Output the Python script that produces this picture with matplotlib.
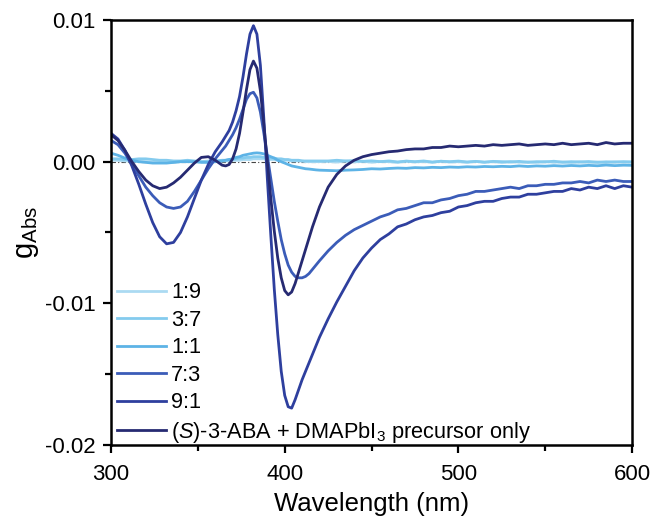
import numpy as np
import matplotlib
matplotlib.use("Agg")
import matplotlib.pyplot as plt
from matplotlib.ticker import MultipleLocator

plt.rcParams['font.family'] = ['Liberation Sans', 'DejaVu Sans']
plt.rcParams['mathtext.fontset'] = 'custom'
plt.rcParams['mathtext.rm'] = 'Liberation Sans'
plt.rcParams['mathtext.it'] = 'Liberation Sans:italic'

# wavelength grid (nm)
wl = [300, 304, 308, 312, 316, 320, 324, 328, 332, 336, 340, 344, 348, 352, 356, 360, 364,
      366, 368, 370, 372, 374, 376, 378, 380, 382, 384, 386, 388, 390, 392, 394, 396, 398,
      400, 402, 404, 406, 408, 410, 412, 414, 416, 418, 420,
      425, 430, 435, 440, 445, 450, 455, 460, 465, 470, 475, 480, 485, 490, 495, 500,
      505, 510, 515, 520, 525, 530, 535, 540, 545, 550, 555, 560, 565, 570, 575, 580,
      585, 590, 595, 600]

# g_Abs values, in units of 1e-3
g_19 = [0.1, 0.1, 0.05, 0.05, 0.0, 0.0, -0.05, -0.05, -0.05, -0.05, 0.0, 0.0, 0.0, 0.0, 0.05, 0.05, 0.05,
        0.05, 0.05, 0.1, 0.1, 0.1, 0.15, 0.15, 0.15, 0.2, 0.2, 0.2, 0.2, 0.15, 0.15, 0.15, 0.1, 0.1,
        0.1, 0.1, 0.05, 0.05, 0.05, 0.05, 0.0, 0.0, 0.0, 0.0, 0.0,
        0.02, -0.03, 0.04, -0.02, 0.03, -0.04, 0.02, 0.0, -0.05, 0.03, -0.02, 0.01, -0.04, 0.03, -0.03, 0.0,
        -0.05, 0.02, -0.03, 0.0, -0.06, 0.02, -0.04, -0.01, -0.05, 0.01, -0.04, -0.02, -0.06, 0.0, -0.05, -0.02,
        -0.06, -0.01, -0.04, -0.03]
g_37 = [0.2, 0.2, 0.15, 0.15, 0.2, 0.2, 0.15, 0.1, 0.1, 0.05, 0.05, 0.1, 0.05, 0.0, 0.0, 0.05, 0.1,
        0.1, 0.15, 0.15, 0.2, 0.25, 0.25, 0.3, 0.3, 0.35, 0.35, 0.35, 0.3, 0.3, 0.25, 0.25, 0.2, 0.2,
        0.15, 0.15, 0.1, 0.1, 0.1, 0.05, 0.05, 0.05, 0.05, 0.05, 0.05,
        0.05, 0.1, 0.05, 0.08, 0.02, 0.06, 0.0, 0.05, -0.02, 0.04, 0.0, 0.05, -0.03, 0.03, 0.0, 0.04,
        -0.02, 0.02, -0.04, 0.02, 0.0, -0.03, 0.02, -0.05, 0.0, -0.02, 0.03, -0.04, 0.0, -0.03, 0.01, -0.05,
        -0.01, -0.03, 0.0, -0.02]
g_11 = [0.6, 0.45, 0.25, 0.1, 0.0, -0.05, -0.1, -0.1, -0.1, -0.05, 0.0, 0.0, 0.0, -0.05, -0.05, 0.0, 0.05,
        0.1, 0.15, 0.2, 0.3, 0.35, 0.45, 0.5, 0.55, 0.6, 0.62, 0.6, 0.55, 0.45, 0.35, 0.25, 0.1, 0.0,
        -0.1, -0.2, -0.3, -0.35, -0.4, -0.45, -0.5, -0.52, -0.55, -0.58, -0.6,
        -0.62, -0.64, -0.6, -0.58, -0.55, -0.5, -0.52, -0.48, -0.45, -0.47, -0.42, -0.44, -0.4, -0.42, -0.38, -0.4,
        -0.36, -0.38, -0.34, -0.36, -0.33, -0.35, -0.3, -0.34, -0.3, -0.32, -0.28, -0.31, -0.27, -0.3, -0.26, -0.29,
        -0.24, -0.28, -0.25, -0.26]
g_73 = [1.5, 1.2, 0.6, -0.2, -1.0, -1.8, -2.4, -2.9, -3.2, -3.3, -3.2, -2.8, -2.1, -1.3, -0.5, 0.2, 0.8,
        1.1, 1.5, 1.9, 2.4, 3.0, 3.7, 4.4, 4.8, 4.9, 4.5, 3.5, 2.0, 0.4, -1.2, -2.8, -4.2, -5.5,
        -6.5, -7.3, -7.8, -8.1, -8.2, -8.2, -8.1, -7.9, -7.6, -7.3, -7.0,
        -6.3, -5.7, -5.2, -4.8, -4.5, -4.2, -3.9, -3.7, -3.4, -3.3, -3.1, -2.9, -2.9, -2.7, -2.6, -2.4,
        -2.3, -2.1, -2.1, -2.0, -1.9, -1.8, -1.9, -1.7, -1.7, -1.6, -1.6, -1.5, -1.5, -1.4, -1.5, -1.3,
        -1.4, -1.3, -1.4, -1.4]
g_91 = [2.0, 1.6, 0.8, -0.3, -1.6, -3.0, -4.3, -5.3, -5.8, -5.7, -5.0, -3.9, -2.6, -1.3, -0.2, 0.7, 1.4,
        1.8, 2.2, 2.8, 3.6, 4.6, 6.0, 7.6, 9.0, 9.6, 9.0, 6.8, 3.0, -1.2, -5.2, -9.0, -12.2, -14.8,
        -16.5, -17.3, -17.4, -16.8, -16.1, -15.4, -14.8, -14.2, -13.6, -13.0, -12.4,
        -11.1, -9.9, -8.8, -7.7, -6.8, -6.1, -5.5, -5.1, -4.6, -4.4, -4.1, -3.9, -3.8, -3.6, -3.5, -3.2,
        -3.1, -2.9, -2.8, -2.8, -2.6, -2.5, -2.5, -2.3, -2.3, -2.2, -2.1, -2.1, -1.9, -2.0, -1.8, -1.9,
        -1.7, -1.9, -1.7, -1.8]
g_pre = [1.9, 1.5, 0.8, 0.0, -0.7, -1.3, -1.7, -1.9, -1.8, -1.5, -1.1, -0.6, -0.1, 0.3, 0.35, 0.1, -0.25,
         -0.3, -0.2, 0.2, 0.9, 2.0, 3.5, 5.1, 6.5, 7.1, 6.6, 5.0, 2.6, 0.0, -2.6, -4.9, -6.8, -8.2,
         -9.1, -9.4, -9.2, -8.6, -7.8, -7.0, -6.2, -5.4, -4.6, -3.9, -3.2,
         -1.8, -0.9, -0.3, 0.1, 0.35, 0.5, 0.6, 0.7, 0.75, 0.85, 0.9, 0.9, 1.0, 1.0, 1.1, 1.05,
         1.1, 1.15, 1.1, 1.2, 1.15, 1.2, 1.25, 1.15, 1.2, 1.25, 1.2, 1.3, 1.2, 1.25, 1.3, 1.2,
         1.35, 1.25, 1.3, 1.3]

labels = ['1:9', '3:7', '1:1', '7:3', '9:1',
          '($\\mathit{S}$)-3-ABA + DMAPbI$_3$ precursor only']
series = [g_19, g_37, g_11, g_73, g_91, g_pre]
colors = ['#abdaf2', '#84cbee', '#5db3e6', '#3b5cb8', '#2e3f9e', '#262a72']

fig = plt.figure(figsize=(6.55, 5.21), dpi=100)
ax = fig.add_axes([0.1695, 0.1459, 0.7955, 0.8157])

ax.axhline(0, color='#444444', lw=0.8, ls=(0, (4, 2, 1, 2)), zorder=1)
for y, c, lab in zip(series, colors, labels):
    ax.plot(wl, np.array(y) * 1e-3, color=c, lw=2.0, label=lab, zorder=2)

ax.set_xlim(300, 600)
ax.set_ylim(-0.02, 0.01)
ax.set_xticks([300, 400, 500, 600])
ax.set_yticks([-0.02, -0.01, 0.0, 0.01])
ax.set_yticklabels(['-0.02', '-0.01', '0.00', '0.01'])
ax.xaxis.set_minor_locator(MultipleLocator(50))
ax.yaxis.set_minor_locator(MultipleLocator(0.005))
ax.tick_params(which='major', direction='out', length=6, width=1.6, labelsize=16,
               pad=5, top=False, right=False)
ax.tick_params(axis='x', which='major', pad=8)
ax.tick_params(which='minor', direction='out', length=4, width=1.6, top=False, right=False)
for s in ax.spines.values():
    s.set_linewidth(1.8)

ax.set_xlabel('Wavelength (nm)', fontsize=18.5, labelpad=5)
ax.set_ylabel('$\\mathregular{g_{Abs}}$', fontsize=21, labelpad=3)

leg = ax.legend(loc='lower left', bbox_to_anchor=(0.012, 0.0), frameon=False, fontsize=15.7,
                handlelength=2.25, handletextpad=0.23, labelspacing=0.3, borderpad=0.0,
                borderaxespad=0.0)

fig.savefig('out.png', dpi=100)
